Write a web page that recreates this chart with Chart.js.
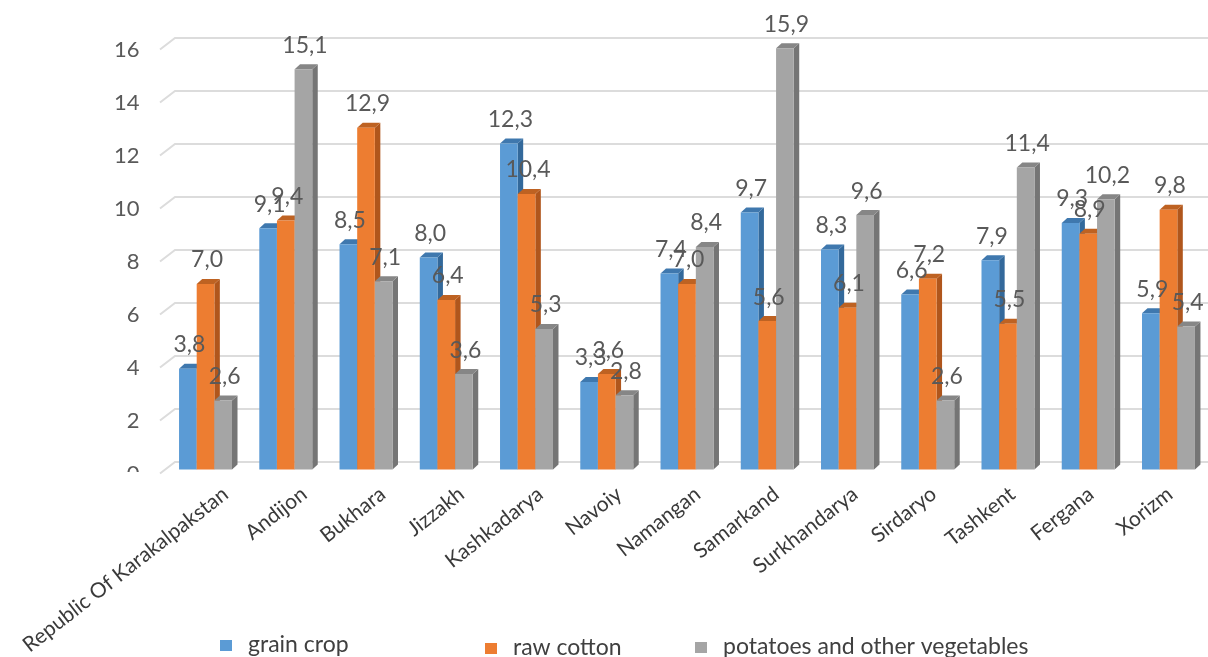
<!DOCTYPE html>
<html>
<head>
<meta charset="utf-8">
<style>html,body{margin:0;padding:0;background:#fff;overflow:hidden}canvas{display:block}</style>
<script src="https://cdn.jsdelivr.net/npm/chart.js@4"></script>
</head>
<body>
<canvas id="c" width="1210" height="657" style="width:1210px;height:657px"></canvas>
<script>
const categories = ["Republic Of Karakalpakstan","Andijon","Bukhara","Jizzakh","Kashkadarya","Navoiy","Namangan","Samarkand","Surkhandarya","Sirdaryo","Tashkent","Fergana","Xorizm"];
const grainCrop = [3.8,9.1,8.5,8.0,12.3,3.3,7.4,9.7,8.3,6.6,7.9,9.3,5.9];
const rawCotton = [7.0,9.4,12.9,6.4,10.4,3.6,7.0,5.6,6.1,7.2,5.5,8.9,9.8];
const potatoes = [2.6,15.1,7.1,3.6,5.3,2.8,8.4,15.9,9.6,2.6,11.4,10.2,5.4];
const seriesNames = ["grain crop","raw cotton","potatoes and other vegetables"];

const FONT = 'Lato, "Open Sans", sans-serif';
const DX = 5.5, DY = 5;
const LABEL_DRIFT = 1.55;
const shades = [
  {front:'#5B9BD5', side:'#33699B', top:'#3F78AE'},
  {front:'#ED7D31', side:'#B0561C', top:'#BE6222'},
  {front:'#A5A5A5', side:'#757575', top:'#868686'}
];
const legendSpots = [
  {box:220, text:248, y:645},
  {box:485, text:513, y:648},
  {box:695, text:723, y:647}
];

const look3d = {
  id:'look3d',
  beforeDraw(chart){
    // category labels in the source are spaced slightly tighter than the bars
    const s = chart.scales.x;
    s.getLabelItems(chart.chartArea).forEach((it,i)=>{
      it.options.translation = [it.options.translation[0] - i*LABEL_DRIFT, it.options.translation[1]];
    });
  },
  beforeDatasetsDraw(chart){
    const {ctx, scales:{y}} = chart;
    ctx.save();
    ctx.strokeStyle = '#DCDCDC';
    ctx.lineWidth = 2;
    y.ticks.forEach(t=>{
      const py = y.getPixelForValue(t.value) - 7.5;
      ctx.beginPath();
      ctx.moveTo(160, py + 11.5);
      ctx.lineTo(175, py);
      ctx.lineTo(1210, py);
      ctx.stroke();
    });
    // series are painted left to right so each bar hides its left neighbour's side
    chart.data.datasets.forEach((ds,i)=>{
      const meta = chart.getDatasetMeta(i);
      const s = shades[i];
      meta.data.forEach(b=>{
        const l = b.x - b.width/2, r = b.x + b.width/2, top = b.y, base = b.base;
        ctx.fillStyle = s.side;
        ctx.beginPath();
        ctx.moveTo(r,top);ctx.lineTo(r+DX,top-DY);ctx.lineTo(r+DX,base-DY);ctx.lineTo(r,base);ctx.closePath();ctx.fill();
        ctx.fillStyle = s.top;
        ctx.beginPath();
        ctx.moveTo(l,top);ctx.lineTo(l+DX,top-DY);ctx.lineTo(r+DX,top-DY);ctx.lineTo(r,top);ctx.closePath();ctx.fill();
      });
      meta.controller.draw();
    });
    ctx.restore();
    return false;
  },
  afterDraw(chart){
    const {ctx} = chart;
    ctx.save();
    // the bottom of the "0" tick label is cut off in the source image
    ctx.fillStyle = '#fff';
    ctx.fillRect(110,472,40,20);
    // value labels
    ctx.font = '23px ' + FONT;
    ctx.fillStyle = '#595959';
    ctx.textAlign = 'center';
    ctx.textBaseline = 'middle';
    chart.data.datasets.forEach((ds,i)=>{
      chart.getDatasetMeta(i).data.forEach((b,j)=>{
        ctx.fillText(ds.data[j].toFixed(1).replace('.',','), b.x + 1.5, b.y - 24);
      });
    });
    // legend
    ctx.font = '23px ' + FONT;
    ctx.textAlign = 'left';
    chart.data.datasets.forEach((ds,i)=>{
      const p = legendSpots[i];
      ctx.fillStyle = ds.backgroundColor;
      ctx.fillRect(p.box,p.y-5,12,11);
      ctx.fillStyle = '#404040';
      ctx.fillText(ds.label,p.text,p.y);
    });
    ctx.restore();
  }
};

function noSidePadding(s){
  s.paddingLeft = 0; s.paddingRight = 0; s.paddingTop = 0; s.paddingBottom = 0;
}

new Chart(document.getElementById('c'),{
  type:'bar',
  data:{
    labels:categories,
    datasets:[
      {label:seriesNames[0],data:grainCrop,backgroundColor:shades[0].front},
      {label:seriesNames[1],data:rawCotton,backgroundColor:shades[1].front},
      {label:seriesNames[2],data:potatoes,backgroundColor:shades[2].front}
    ]
  },
  options:{
    responsive:false,
    animation:false,
    clip:false,
    layout:{padding:{top:45.5,right:1.4,left:0,bottom:0}},
    datasets:{bar:{barPercentage:1,categoryPercentage:0.66}},
    plugins:{legend:{display:false},tooltip:{enabled:false}},
    scales:{
      x:{
        afterFit(s){s.height=187.5;noSidePadding(s);},
        grid:{display:false,drawTicks:false},
        border:{display:false},
        ticks:{color:'#3a3a3a',font:{family:FONT,size:21},minRotation:38,maxRotation:38,autoSkip:false,padding:12,labelOffset:20}
      },
      y:{
        min:0,max:16,
        afterFit(s){s.width=165.4;noSidePadding(s);},
        grid:{display:false,drawTicks:false},
        border:{display:false},
        ticks:{stepSize:2,color:'#595959',font:{family:FONT,size:22},padding:26,labelOffset:4}
      }
    }
  },
  plugins:[look3d]
});
</script>
</body>
</html>
